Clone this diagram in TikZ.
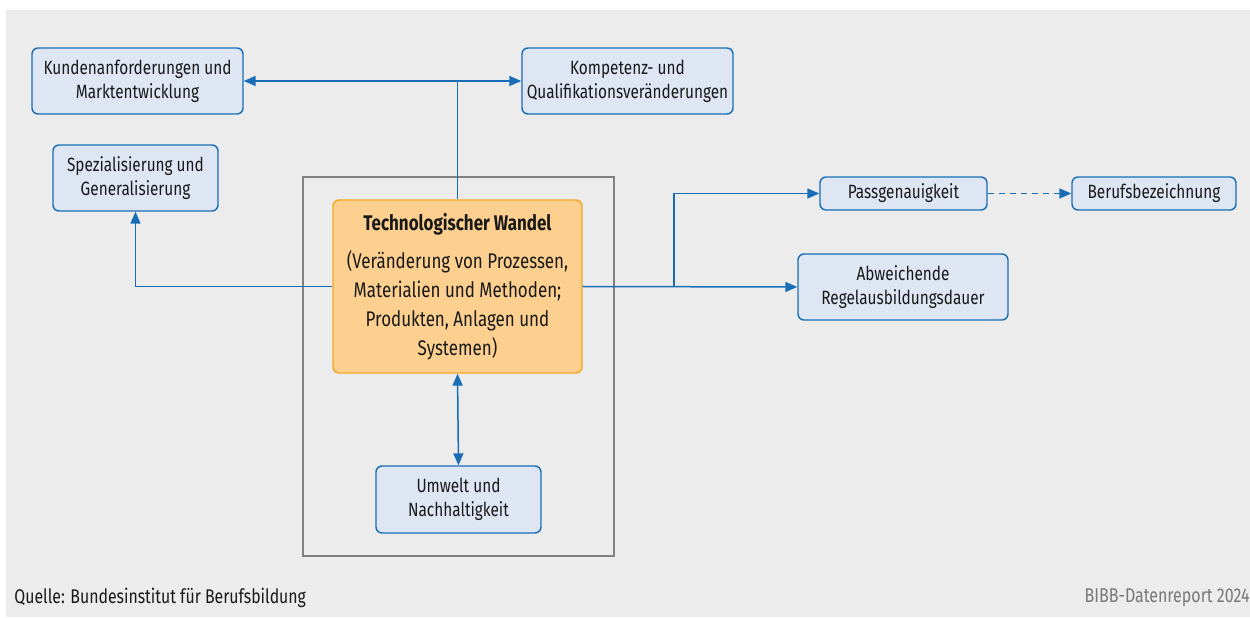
\documentclass[tikz,border=0pt]{standalone}
\usepackage{fontspec}
\setmainfont{Fira Sans}[FakeStretch=0.80]
\usepackage{tikz}
\usetikzlibrary{arrows.meta, positioning, calc}
\definecolor{BIBBGrau}{RGB}{236, 236, 236}
\definecolor{BIBBRahmen}{RGB}{128, 128, 128}
\definecolor{BIBBBlau}{RGB}{24, 110, 182}
\definecolor{BIBBHellblau}{RGB}{222, 230, 244}
\definecolor{BIBBOrange}{RGB}{253, 208, 143}
\definecolor{BIBBOrangeRand}{RGB}{245, 166, 35}
\definecolor{BIBBText}{RGB}{25, 25, 25}
\definecolor{BIBBQuelle}{RGB}{120, 120, 120}

\tikzset{
  box/.style={draw=BIBBBlau, fill=BIBBHellblau, line width=0.7pt, rounded corners=3pt,
    align=center, inner sep=2pt, text=BIBBText,
    font=\fontsize{9.6}{12}\selectfont},
  kernbox/.style={draw=BIBBOrangeRand, fill=BIBBOrange, line width=0.7pt, rounded corners=3pt,
    align=center, inner sep=2pt, text=BIBBText,
    minimum width=124.5pt, minimum height=86.5pt,
    font=\fontsize{10.6}{14.5}\selectfont},
  pfeil/.style={draw=BIBBBlau, line width=0.75pt, -{Triangle[length=6pt,width=5pt]}},
}

\begin{document}
\begin{tikzpicture}[x=0.5pt,y=0.5pt]
  \path[use as bounding box] (0,0) rectangle (1250,617);
  \fill[BIBBGrau] (6,0) rectangle (1250,607);
  % Rahmen um den Kern
  \draw[BIBBRahmen, line width=0.7pt] (303,440) rectangle (614,61);

  % Kaesten
  \node[box, minimum width=105.5pt, minimum height=33pt] (kunden) at (137.5,536)
    {Kundenanforderungen und\\Marktentwicklung};
  \node[box, minimum width=105.5pt, minimum height=33pt] (kompetenz) at (627.5,536)
    {Kompetenz- und\\Qualifikationsveränderungen};
  \node[box, minimum width=82.5pt, minimum height=33pt] (spezial) at (135.5,439)
    {Spezialisierung und\\Generalisierung};
  \node[kernbox] (wandel) at (457.5,330.5)
    {\textbf{Technologischer Wandel}\\[4.5pt](Veränderung von Prozessen,\\Materialien und Methoden;\\Produkten, Anlagen und\\Systemen)};
  \node[box, minimum width=82.5pt, minimum height=33.5pt] (umwelt) at (458.5,117.5)
    {Umwelt und\\Nachhaltigkeit};
  \node[box, minimum width=83.5pt, minimum height=16.5pt] (passung) at (903.5,423.5)
    {Passgenauigkeit};
  \node[box, minimum width=82pt, minimum height=16.5pt] (beruf) at (1154,423.5)
    {Berufsbezeichnung};
  \node[box, minimum width=105pt, minimum height=33pt] (dauer) at (903,330)
    {Abweichende\\Regelausbildungsdauer};

  % Verbindungen
  \coordinate (oben) at (wandel.north |- kunden.east);
  \coordinate (abzweig) at (674,330.5);
  \draw[BIBBBlau, line width=0.75pt] (wandel.north) -- (oben);
  \draw[pfeil] (oben) -- (kunden.east);
  \draw[pfeil] (oben) -- (kompetenz.west);
  \draw[pfeil] (wandel.west) -| (spezial.south);
  \draw[pfeil] (wandel.east) -- (dauer.west);
  \draw[pfeil] (abzweig) |- (passung.west);
  \draw[pfeil, dash pattern=on 3pt off 2.5pt] (passung.east) -- (beruf.west);
  \draw[pfeil, {Triangle[length=6pt,width=5pt]}-{Triangle[length=6pt,width=5pt]}] (wandel.south) -- (umwelt.north);

  % Fusszeile
  \node[anchor=west, inner sep=0pt, text=BIBBText, font=\fontsize{9.9}{12}\selectfont] (quelle) at (14,19)
    {Quelle: Bundesinstitut für Berufsbildung};
  \node[anchor=east, inner sep=0pt, text=BIBBQuelle, font=\fontsize{10}{12}\selectfont] (report) at (1250,19)
    {BIBB-Datenreport 2024};
\end{tikzpicture}
\end{document}
